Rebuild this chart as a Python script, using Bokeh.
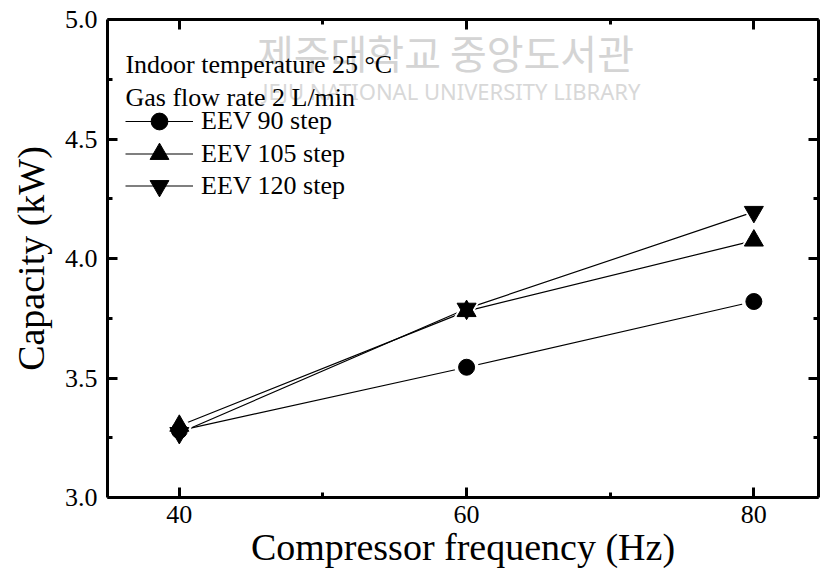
from bokeh.plotting import figure
from bokeh.models import (Range1d, FixedTicker, LinearAxis, Legend, LegendItem,
                          Label, PrintfTickFormatter, CustomJSTickFormatter)
from bokeh.embed import file_html
from bokeh.resources import INLINE

# ---- data ----
freq = [40, 60, 80]
eev90 = [3.28, 3.545, 3.82]
eev105 = [3.30, 3.78, 4.075]
eev120 = [3.27, 3.79, 4.195]
x_ticks = [40, 60, 80]
x_minor = [50, 70]
y_ticks = [3.0, 3.5, 4.0, 4.5, 5.0]
y_minor = [3.25, 3.75, 4.25, 4.75]

FONT = "Liberation Serif"

p = figure(width=822, height=574, output_backend="svg", toolbar_location=None,
           x_range=Range1d(35, 84.5), y_range=Range1d(3.0, 5.0),
           min_border_left=107, min_border_top=19, min_border_right=4,
           min_border_bottom=77, x_axis_location=None, y_axis_location=None)
p.grid.visible = False
p.outline_line_color = None
p.background_fill_color = "white"
p.border_fill_color = "white"

def style_axis(ax, labels=True):
    ax.axis_line_width = 3
    ax.axis_line_color = "black"
    ax.major_tick_line_width = 3
    ax.minor_tick_line_width = 3
    ax.major_tick_in = 10
    ax.major_tick_out = 0
    ax.minor_tick_in = 5
    ax.minor_tick_out = 0
    ax.major_label_text_font = FONT
    ax.major_label_text_color = "black"
    ax.axis_label_text_font = FONT
    ax.axis_label_text_font_style = "normal"
    ax.axis_label_text_color = "black"
    ax.major_label_text_font_size = "26px"
    ax.axis_label_text_font_size = "38px"
    if not labels:
        ax.formatter = CustomJSTickFormatter(code="return ''")
        ax.major_label_standoff = 0

xb = LinearAxis(ticker=FixedTicker(ticks=x_ticks, minor_ticks=x_minor),
                axis_label="Compressor frequency (Hz)")
style_axis(xb)
xb.major_label_standoff = 8
xb.axis_label_standoff = 0
p.add_layout(xb, "below")

yl = LinearAxis(ticker=FixedTicker(ticks=y_ticks, minor_ticks=y_minor),
                axis_label="Capacity (kW)", formatter=PrintfTickFormatter(format="%.1f"))
style_axis(yl)
yl.major_label_standoff = 10
yl.axis_label_standoff = 10
p.add_layout(yl, "left")

xt = LinearAxis(ticker=FixedTicker(ticks=x_ticks, minor_ticks=x_minor))
style_axis(xt, labels=False)
p.add_layout(xt, "above")

yr = LinearAxis(ticker=FixedTicker(ticks=y_ticks, minor_ticks=y_minor))
style_axis(yr, labels=False)
p.add_layout(yr, "right")

# ---- watermark ----
p.add_layout(Label(x=71.65, y=4.862, text="제주대학교 중앙도서관", text_font="Noto Sans CJK KR",
                   text_font_size="40px", text_color="#d4d4d4", text_align="right",
                   text_baseline="middle", level="underlay"))
p.add_layout(Label(x=72.1, y=4.70, text="JEJU NATIONAL UNIVERSITY LIBRARY", text_font="Noto Sans",
                   text_font_size="22px", text_color="#d8d8d8", text_align="right",
                   text_baseline="middle", level="underlay"))

# ---- series ----
series = [("EEV 90 step", eev90, "circle", 16, 42, 355),
          ("EEV 105 step", eev105, "triangle", 19, 47, 320),
          ("EEV 120 step", eev120, "inverted_triangle", 19, 47, 288)]
lines = []
for name, ys, marker, size, gh, ly in series:
    lines.append(p.line(freq, ys, line_color="black", line_width=1.2))
# white halos so that the lines stop short of the markers
for name, ys, marker, size, gh, ly in series:
    p.scatter(freq, ys, marker=marker, size=size + 8, fill_color="white", line_color=None)
for (name, ys, marker, size, gh, ly), ln in zip(series, lines):
    sc = p.scatter(freq, ys, marker=marker, size=size, fill_color="black", line_color="black")
    lg = Legend(items=[LegendItem(label=name, renderers=[ln, sc])], location=(18, ly),
                label_text_font=FONT, label_text_font_size="26px", label_text_color="black",
                glyph_width=68, glyph_height=gh, label_height=gh, label_standoff=8,
                spacing=0, padding=0, margin=0, border_line_color=None,
                background_fill_alpha=0)
    p.add_layout(lg)

# ---- header texts ----
p.add_layout(Label(x=36.25, y=4.812, text="Indoor temperature 25 °C", text_font=FONT,
                   text_font_size="26px", text_color="black", text_baseline="alphabetic"))
p.add_layout(Label(x=36.25, y=4.674, text="Gas flow rate 2 L/min", text_font=FONT,
                   text_font_size="26px", text_color="black", text_baseline="alphabetic"))

open("out.html", "w").write(file_html(p, INLINE))
